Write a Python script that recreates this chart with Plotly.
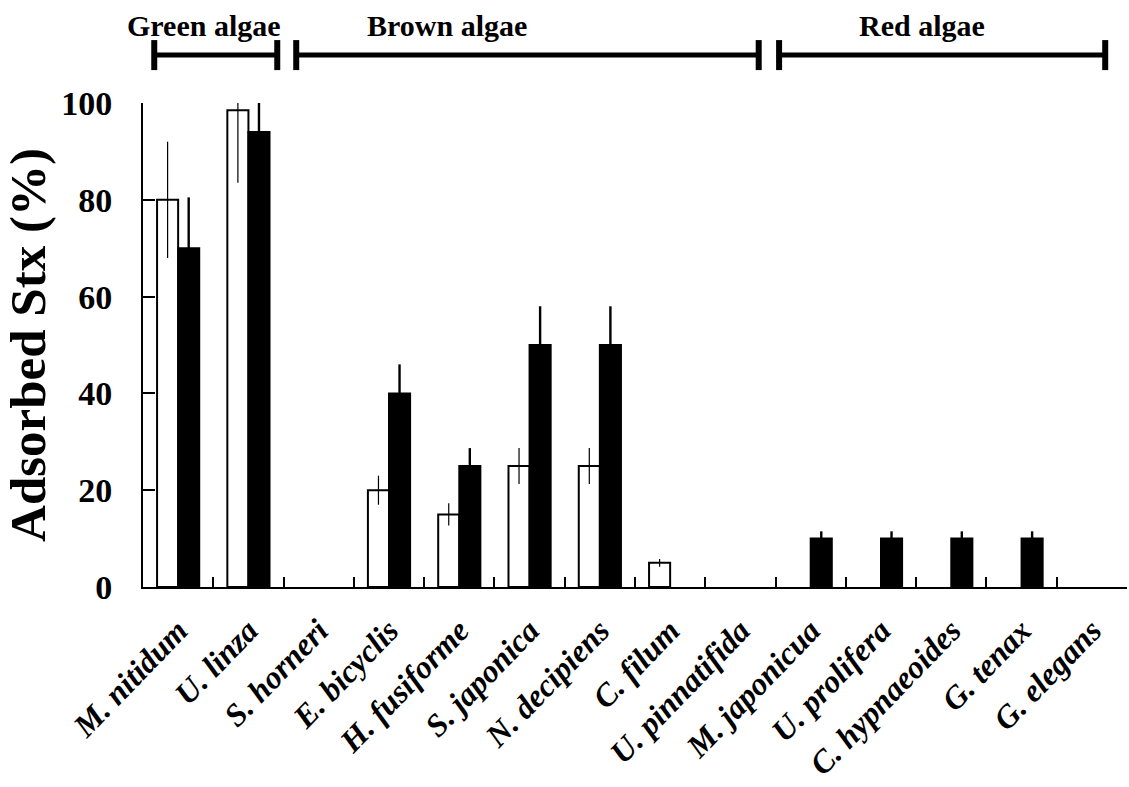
import plotly.graph_objects as go

species = ["M. nitidum", "U. linza", "S. horneri", "E. bicyclis", "H. fusiforme",
           "S. japonica", "N. decipiens", "C. filum", "U. pinnatifida", "M. japonicua",
           "U. prolifera", "C. hypnaeoides", "G. tenax", "G. elegans"]
white_vals = [80, 98.5, 0, 20, 15, 25, 25, 5, 0, 0, 0, 0, 0, 0]
white_err_plus = [12, 1.5, 0, 3, 2.3, 3.7, 3.7, 0.8, 0, 0, 0, 0, 0, 0]
white_err_minus = [12, 15, 0, 3, 2.3, 3.7, 3.7, 0.8, 0, 0, 0, 0, 0, 0]
black_vals = [70, 94, 0, 40, 25, 50, 50, 0, 0, 10, 10, 10, 10, 0]
black_err = [10.5, 6, 0, 6, 3.7, 8, 8, 0, 0, 1.5, 1.5, 1.5, 1.5, 0]
y_ticks = [0, 20, 40, 60, 80, 100]

# group brackets: label, left, right (category-axis units), label centre
groups = [("Green algae", -0.34, 1.41, 0.37),
          ("Brown algae", 1.68, 8.26, 3.82),
          ("Red algae", 8.55, 13.19, 10.58)]

FONT = "Liberation Serif, Times New Roman, serif"

pos = list(range(len(species)))
boundaries = [p + 0.5 for p in pos]
xrange_ = [-0.5, len(species) - 0.5]

fig = go.Figure()
fig.add_trace(go.Bar(
    x=pos, y=white_vals,
    marker=dict(color="white",
                line=dict(color="black", width=[2 if v > 0 else 0 for v in white_vals])),
    error_y=dict(type="data", symmetric=False, array=white_err_plus,
                 arrayminus=white_err_minus, color="black", thickness=1.2, width=0),
    showlegend=False))
fig.add_trace(go.Bar(
    x=pos, y=black_vals,
    marker=dict(color="black",
                line=dict(color="black", width=[2 if v > 0 else 0 for v in black_vals])),
    error_y=dict(type="data", array=black_err, color="black", thickness=2.4, width=0),
    showlegend=False))
# invisible trace to carry the boundary-tick axis
fig.add_trace(go.Scatter(x=[xrange_[0], xrange_[1]], y=[0, 0], xaxis="x2", yaxis="y",
                         mode="markers", marker=dict(opacity=0), showlegend=False,
                         hoverinfo="skip"))

shapes = []
annotations = []
for name, x0, x1, xc in groups:
    shapes.append(dict(type="line", xref="x", yref="paper", x0=x0, x1=x1, y0=1.099, y1=1.099,
                       line=dict(color="black", width=5)))
    for xe in (x0, x1):
        shapes.append(dict(type="line", xref="x", yref="paper", x0=xe, x1=xe, y0=1.068, y1=1.130,
                           line=dict(color="black", width=6)))
    annotations.append(dict(text="<b>%s</b>" % name, xref="x", yref="paper", x=xc, y=1.161,
                            showarrow=False, xanchor="center", yanchor="middle",
                            font=dict(family=FONT, size=30, color="black")))

fig.update_layout(
    width=1129, height=787,
    margin=dict(l=143, r=2, t=103, b=200),
    paper_bgcolor="white", plot_bgcolor="white",
    barmode="group", bargap=0.4, bargroupgap=0,
    shapes=shapes, annotations=annotations,
    font=dict(family=FONT, color="black"),
    xaxis2=dict(overlaying="x", anchor="y", side="bottom", range=xrange_,
                tickmode="array", tickvals=boundaries, ticks="inside", ticklen=10,
                tickwidth=2, tickcolor="black", showticklabels=False,
                showgrid=False, zeroline=False, showline=False),
)
fig.layout.xaxis.update(
    range=xrange_,
    tickmode="array", tickvals=pos, ticktext=species,
    showline=True, linecolor="black", linewidth=2, mirror=False,
    ticks="", showgrid=False, zeroline=False,
    tickangle=-46, ticklabelstandoff=10,
    tickfont=dict(family=FONT, size=32, weight="bold", style="italic", color="black"),
)
fig.update_yaxes(
    range=[0, 100], tickvals=y_ticks,
    showline=True, linecolor="black", linewidth=2, mirror=False,
    ticks="inside", ticklen=12, tickwidth=2, tickcolor="black",
    showgrid=False, zeroline=False, ticklabelstandoff=22,
    tickfont=dict(family=FONT, size=34, weight="bold", color="black"),
    title=dict(text="Adsorbed Stx (%)", standoff=10,
               font=dict(family=FONT, size=51, weight="bold", color="black")),
)

fig.write_html("out.html")
